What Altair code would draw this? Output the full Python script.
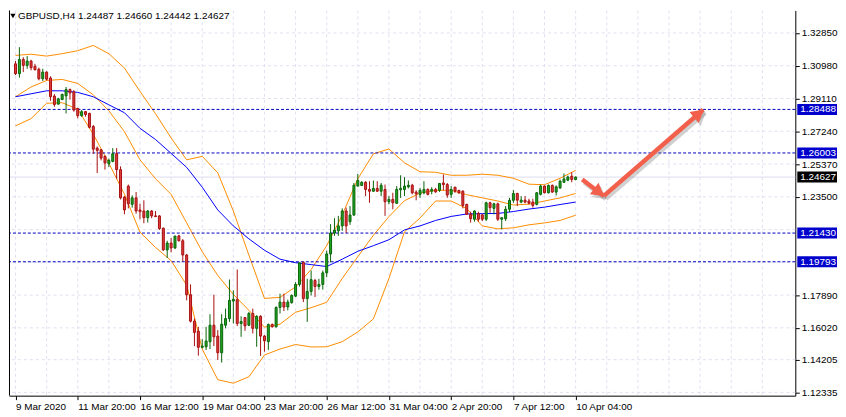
import altair as alt
import pandas as pd

# ---------------- data ----------------
OPEN = [1.3109, 1.3053, 1.3134, 1.3100, 1.3125, 1.3095, 1.3078, 1.3024, 1.3062, 1.3028,
        1.2925, 1.2879, 1.2905, 1.2926, 1.2962, 1.2949, 1.2854, 1.2813, 1.2836, 1.2826,
        1.2751, 1.2628, 1.2619, 1.2581, 1.2539, 1.2552, 1.2596, 1.2505, 1.2348, 1.2411,
        1.2307, 1.2344, 1.2275, 1.2269, 1.2231, 1.2269, 1.2241, 1.2241, 1.2171, 1.2047,
        1.2086, 1.2058, 1.2127, 1.2099, 1.2018, 1.1791, 1.1640, 1.1583, 1.1491, 1.1494,
        1.1523, 1.1617, 1.1555, 1.1460, 1.1617, 1.1655, 1.1755, 1.1763, 1.1627, 1.1661,
        1.1617, 1.1684, 1.1599, 1.1668, 1.1555, 1.1523, 1.1621, 1.1608, 1.1718, 1.1749,
        1.1721, 1.1746, 1.1783, 1.1850, 1.1976, 1.1769, 1.1810, 1.1872, 1.1838, 1.1850,
        1.1916, 1.2024, 1.2143, 1.2156, 1.2184, 1.2269, 1.2208, 1.2246, 1.2411, 1.2415,
        1.2433, 1.2392, 1.2382, 1.2398, 1.2382, 1.2392, 1.2322, 1.2335, 1.2313, 1.2390,
        1.2392, 1.2407, 1.2416, 1.2377, 1.2364, 1.2373, 1.2392, 1.2382, 1.2392, 1.2387,
        1.2429, 1.2420, 1.2364, 1.2405, 1.2387, 1.2382, 1.2307, 1.2250, 1.2222, 1.2254,
        1.2247, 1.2222, 1.2316, 1.2284, 1.2310, 1.2222, 1.2225, 1.2279, 1.2330, 1.2369,
        1.2320, 1.2331, 1.2326, 1.2320, 1.2307, 1.2364, 1.2411, 1.2373, 1.2415, 1.2377,
        1.2401, 1.2433, 1.2445, 1.2467, 1.24487]
HIGH = [1.3125, 1.3204, 1.3147, 1.3153, 1.3132, 1.3109, 1.3087, 1.3081, 1.3066, 1.3038,
        1.2936, 1.2915, 1.2939, 1.2977, 1.2968, 1.2959, 1.2858, 1.2845, 1.2840, 1.2830,
        1.2760, 1.2637, 1.2622, 1.2586, 1.2569, 1.2628, 1.2628, 1.2524, 1.2354, 1.2420,
        1.2358, 1.2377, 1.2310, 1.2330, 1.2275, 1.2275, 1.2269, 1.2245, 1.2174, 1.2099,
        1.2114, 1.2127, 1.2133, 1.2109, 1.2024, 1.1850, 1.1655, 1.1608, 1.1537, 1.1608,
        1.1680, 1.1791, 1.1589, 1.1680, 1.1712, 1.1878, 1.1816, 1.1935, 1.1668, 1.1664,
        1.1693, 1.1712, 1.1674, 1.1674, 1.1561, 1.1627, 1.1627, 1.1725, 1.1797, 1.1797,
        1.1763, 1.1793, 1.1863, 1.1976, 1.1980, 1.1882, 1.1929, 1.1882, 1.1882, 1.1929,
        1.2042, 1.2194, 1.2228, 1.2241, 1.2284, 1.2288, 1.2297, 1.2429, 1.2480, 1.2439,
        1.2439, 1.2439, 1.2443, 1.2439, 1.2429, 1.2420, 1.2354, 1.2373, 1.2411, 1.2473,
        1.2462, 1.2443, 1.2424, 1.2387, 1.2401, 1.2439, 1.2398, 1.2405, 1.2401, 1.2429,
        1.2477, 1.2429, 1.2411, 1.2405, 1.2387, 1.2387, 1.2310, 1.2265, 1.2273, 1.2265,
        1.2250, 1.2322, 1.2322, 1.2316, 1.2316, 1.2231, 1.2297, 1.2344, 1.2388, 1.2373,
        1.2354, 1.2354, 1.2339, 1.2339, 1.2377, 1.2420, 1.2415, 1.2420, 1.2420, 1.2415,
        1.2449, 1.2483, 1.2471, 1.2490, 1.24660]
LOW = [1.3045, 1.3030, 1.3062, 1.3081, 1.3072, 1.3072, 1.3015, 1.3011, 1.3015, 1.2898,
       1.2864, 1.2877, 1.2902, 1.2826, 1.2905, 1.2836, 1.2798, 1.2807, 1.2807, 1.2741,
       1.2596, 1.2486, 1.2558, 1.2505, 1.2520, 1.2547, 1.2452, 1.2335, 1.2250, 1.2284,
       1.2288, 1.2254, 1.2222, 1.2199, 1.2203, 1.2228, 1.2235, 1.2161, 1.2042, 1.2001,
       1.2033, 1.2052, 1.2095, 1.1982, 1.1759, 1.1633, 1.1498, 1.1443, 1.1485, 1.1476,
       1.1481, 1.1498, 1.1419, 1.1404, 1.1599, 1.1636, 1.1627, 1.1612, 1.1551, 1.1585,
       1.1612, 1.1570, 1.1494, 1.1442, 1.1466, 1.1476, 1.1604, 1.1604, 1.1684, 1.1698,
       1.1702, 1.1740, 1.1778, 1.1838, 1.1749, 1.1636, 1.1787, 1.1778, 1.1820, 1.1820,
       1.1891, 1.1976, 1.2127, 1.2127, 1.2156, 1.2143, 1.2190, 1.2241, 1.2411, 1.2411,
       1.2354, 1.2316, 1.2378, 1.2378, 1.2354, 1.2241, 1.2307, 1.2279, 1.2310, 1.2344,
       1.2354, 1.2398, 1.2364, 1.2330, 1.2344, 1.2364, 1.2358, 1.2364, 1.2373, 1.2378,
       1.2387, 1.2344, 1.2344, 1.2373, 1.2367, 1.2284, 1.2247, 1.2203, 1.2208, 1.2208,
       1.2212, 1.2212, 1.2259, 1.2250, 1.2212, 1.2165, 1.2212, 1.2263, 1.2316, 1.2297,
       1.2313, 1.2313, 1.2307, 1.2288, 1.2301, 1.2358, 1.2369, 1.2369, 1.2373, 1.2358,
       1.2395, 1.2429, 1.2439, 1.2433, 1.24442]
CLOSE = [1.3053, 1.3134, 1.3100, 1.3125, 1.3087, 1.3075, 1.3024, 1.3062, 1.3021, 1.2921,
         1.2877, 1.2909, 1.2934, 1.2962, 1.2943, 1.2845, 1.2813, 1.2836, 1.2820, 1.2747,
         1.2622, 1.2615, 1.2571, 1.2543, 1.2558, 1.2596, 1.2505, 1.2344, 1.2275, 1.2310,
         1.2344, 1.2269, 1.2265, 1.2231, 1.2269, 1.2241, 1.2237, 1.2169, 1.2047, 1.2086,
         1.2058, 1.2126, 1.2099, 1.2018, 1.1791, 1.1640, 1.1576, 1.1491, 1.1498, 1.1527,
         1.1617, 1.1551, 1.1460, 1.1623, 1.1655, 1.1759, 1.1765, 1.1627, 1.1638, 1.1613,
         1.1684, 1.1599, 1.1668, 1.1555, 1.1528, 1.1621, 1.1608, 1.1718, 1.1749, 1.1721,
         1.1749, 1.1787, 1.1850, 1.1973, 1.1769, 1.1810, 1.1877, 1.1838, 1.1850, 1.1916,
         1.2024, 1.2143, 1.2160, 1.2184, 1.2269, 1.2184, 1.2246, 1.2416, 1.2443, 1.2433,
         1.2392, 1.2382, 1.2398, 1.2382, 1.2416, 1.2322, 1.2335, 1.2316, 1.2392, 1.2398,
         1.2411, 1.2416, 1.2373, 1.2367, 1.2387, 1.2392, 1.2364, 1.2392, 1.2378, 1.2426,
         1.2420, 1.2360, 1.2392, 1.2382, 1.2373, 1.2301, 1.2250, 1.2225, 1.2269, 1.2222,
         1.2222, 1.2316, 1.2288, 1.2310, 1.2222, 1.2231, 1.2279, 1.2330, 1.2369, 1.2331,
         1.2331, 1.2320, 1.2313, 1.2301, 1.2373, 1.2411, 1.2373, 1.2415, 1.2377, 1.2407,
         1.2439, 1.2452, 1.2463, 1.2449, 1.24627]

# Bollinger bands and moving average, read every 4th bar
BAND_BARS = [0, 4, 8, 12, 16, 20, 24, 28, 32, 36, 40, 44, 48, 52, 56, 60, 64, 68, 72,
             76, 80, 84, 88, 92, 96, 100, 104, 108, 112, 116, 120, 124, 128, 132, 136, 140, 144]
UPPER = [1.3157, 1.3164, 1.3153, 1.3167, 1.3184, 1.3214, 1.3167, 1.3085, 1.2952, 1.2824,
         1.2686, 1.2561, 1.2581, 1.2487, 1.2269, 1.2017, 1.1770, 1.1776, 1.1836, 1.1935,
         1.2071, 1.2246, 1.2453, 1.2595, 1.2623, 1.2544, 1.2493, 1.2490, 1.2473, 1.2473,
         1.2479, 1.2473, 1.2456, 1.2422, 1.2419, 1.2456, 1.2501]
MIDDLE = [1.2921, 1.2977, 1.3014, 1.3020, 1.2997, 1.2932, 1.2841, 1.2722, 1.2561, 1.2453,
          1.2364, 1.2201, 1.2037, 1.1901, 1.1793, 1.1702, 1.1606, 1.1623, 1.1691, 1.1717,
          1.1748, 1.1884, 1.2008, 1.2130, 1.2237, 1.2328, 1.2371, 1.2387, 1.2387, 1.2362,
          1.2344, 1.2326, 1.2303, 1.2308, 1.2326, 1.2344, 1.2369]
LOWER = [1.2755, 1.2796, 1.2884, 1.2887, 1.2850, 1.2707, 1.2542, 1.2365, 1.2148, 1.2061,
         1.1986, 1.1846, 1.1481, 1.1306, 1.1286, 1.1323, 1.1447, 1.1481, 1.1507, 1.1493,
         1.1494, 1.1523, 1.1579, 1.1653, 1.1884, 1.2150, 1.2229, 1.2326, 1.2326, 1.2283,
         1.2184, 1.2167, 1.2173, 1.2190, 1.2201, 1.2215, 1.2245]
MA = [1.2921, 1.2938, 1.2955, 1.2955, 1.2946, 1.2921, 1.2875, 1.2830, 1.2741, 1.2677,
      1.2598, 1.2518, 1.2405, 1.2275, 1.2184, 1.2110, 1.2045, 1.1994, 1.1974, 1.1963,
      1.1952, 1.1994, 1.2039, 1.2071, 1.2105, 1.2161, 1.2184, 1.2215, 1.2238, 1.2252,
      1.2254, 1.2255, 1.2266, 1.2280, 1.2291, 1.2306, 1.2320]

LEVELS = [1.28488, 1.26003, 1.21430, 1.19793]
LAST_PRICE = 1.24627
Y_TICKS = [1.32850, 1.30980, 1.29110, 1.27240, 1.25370, 1.23500,
           1.17890, 1.16020, 1.14205, 1.12335]
Y_GRID = [1.32850, 1.30980, 1.29110, 1.27240, 1.25370, 1.23500, 1.21630, 1.19760,
          1.17890, 1.16020, 1.14205, 1.12335]
DATE_TICK_BARS = [0, 16, 32, 48, 64, 80, 96, 112, 128, 144]
DATE_LABELS = ["9 Mar 2020", "11 Mar 20:00", "16 Mar 12:00", "19 Mar 04:00", "23 Mar 20:00",
               "26 Mar 12:00", "31 Mar 04:00", "2 Apr 20:00", "7 Apr 12:00", "10 Apr 04:00"]
GRID_BARS = list(range(0, 193, 8))

ARROW1_BARS = [145.7, 151.25]
ARROW1_PRICES = [1.2449, 1.2355]
ARROW2_BARS = [151.25, 176.8]
ARROW2_PRICES = [1.2355, 1.2847]
HEAD1 = (150.05, 1.2376)
HEAD2 = (175.7, 1.2825)

TITLE = "GBPUSD,H4  1.24487 1.24660 1.24442 1.24627"

# ---------------- chart ----------------
FONT = "Liberation Sans"
W, H = 792, 388
UP_FILL, DOWN_FILL = "#22a822", "#de3e3e"
UP_LINE, DOWN_LINE = "#0a640a", "#a80f0f"
ORANGE = "#ff8c00"
ARROW = "#f2604c"
GRID_COLOR = "#e0e0f2"

xscale = alt.Scale(domain=[-0.4, 199.2], nice=False, zero=False)
yscale = alt.Scale(domain=[1.1215, 1.34137], nice=False, zero=False)

label_expr = "[" + ",".join("'%s'" % s for s in DATE_LABELS) + "][round(datum.value / 16)]"

xaxis = alt.Axis(values=DATE_TICK_BARS, labelExpr=label_expr, title=None, grid=False,
                 orient="bottom", tickSize=4, tickColor="black", domainColor="black",
                 labelAlign="left", labelBaseline="top", labelPadding=2, labelFontSize=10,
                 labelFont=FONT, labelColor="black", labelFlush=False, labelOverlap=False)
yaxis = alt.Axis(values=Y_TICKS, format=".5f", orient="right", title=None, grid=False,
                 tickSize=4, tickColor="black",
                 domainColor="black", labelAlign="left", labelBaseline="middle",
                 labelPadding=2, labelFontSize=10, labelFont=FONT, labelColor="black",
                 labelOverlap=False, labelFlush=False)


def X(f):
    return alt.X(f + ":Q", scale=xscale, axis=xaxis)


def Y(f):
    return alt.Y(f + ":Q", scale=yscale, axis=yaxis)


candles = pd.DataFrame({"bar": list(range(len(OPEN))), "o": OPEN, "h": HIGH, "l": LOW, "c": CLOSE})
candles["dir"] = ["up" if c >= o else "down" for o, c in zip(OPEN, CLOSE)]
bands = pd.DataFrame({"bar": BAND_BARS, "upper": UPPER, "middle": MIDDLE, "lower": LOWER, "ma": MA})
vgrid_df = pd.DataFrame({"bar": GRID_BARS})
hgrid_df = pd.DataFrame({"p": Y_GRID})
levels = pd.DataFrame({"p": LEVELS})
last = pd.DataFrame({"p": [LAST_PRICE]})
a1 = pd.DataFrame({"bar": ARROW1_BARS, "p": ARROW1_PRICES})
a2 = pd.DataFrame({"bar": ARROW2_BARS, "p": ARROW2_PRICES})
h1 = pd.DataFrame({"bar": [HEAD1[0]], "p": [HEAD1[1]]})
h2 = pd.DataFrame({"bar": [HEAD2[0]], "p": [HEAD2[1]]})
title_df = pd.DataFrame({"t": [TITLE]})

stroke_scale = alt.Scale(domain=["up", "down"], range=[UP_LINE, DOWN_LINE])
fill_scale = alt.Scale(domain=["up", "down"], range=[UP_FILL, DOWN_FILL])

vgrid = alt.Chart(vgrid_df).mark_rule(color=GRID_COLOR, strokeDash=[3, 3], strokeWidth=1).encode(x=X("bar"))
hgrid = alt.Chart(hgrid_df).mark_rule(color=GRID_COLOR, strokeDash=[3, 3], strokeWidth=1).encode(y=Y("p"))
last_line = alt.Chart(last).mark_rule(color="#dcdcf0", strokeWidth=1).encode(y=Y("p"))
level_lines = alt.Chart(levels).mark_rule(color="#0000c0", strokeDash=[3, 2], strokeWidth=1).encode(y=Y("p"))

band_layers = [
    alt.Chart(bands).mark_line(color=ORANGE, strokeWidth=1).encode(x=X("bar"), y=Y(f))
    for f in ["upper", "middle", "lower"]
]
ma_line = alt.Chart(bands).mark_line(color="#0000ff", strokeWidth=1).encode(x=X("bar"), y=Y("ma"))

wicks = alt.Chart(candles).mark_rule(strokeWidth=1).encode(
    x=X("bar"), y=Y("l"), y2=alt.Y2("h"),
    stroke=alt.Stroke("dir:N", scale=stroke_scale, legend=None))
bodies = alt.Chart(candles).mark_bar(size=2, strokeWidth=1).encode(
    x=X("bar"), y=Y("o"), y2=alt.Y2("c"),
    fill=alt.Fill("dir:N", scale=fill_scale, legend=None),
    stroke=alt.Stroke("dir:N", scale=stroke_scale, legend=None))

arrow_layers = []
for df in (a1, a2):
    arrow_layers.append(alt.Chart(df).mark_line(color="#7a7a7a", opacity=0.35, strokeWidth=4.5,
                                                xOffset=2, yOffset=3).encode(x=X("bar"), y=Y("p")))
for df, ang in ((h1, 127), (h2, 50)):
    arrow_layers.append(alt.Chart(df).mark_point(shape="triangle-up", filled=True, size=210,
                                                 color="#7a7a7a", opacity=0.35, angle=ang,
                                                 xOffset=2, yOffset=3).encode(x=X("bar"), y=Y("p")))
for df in (a1, a2):
    arrow_layers.append(alt.Chart(df).mark_line(color=ARROW, strokeWidth=4.5).encode(x=X("bar"), y=Y("p")))
for df, ang in ((h1, 127), (h2, 50)):
    arrow_layers.append(alt.Chart(df).mark_point(shape="triangle-up", filled=True, size=210,
                                                 color=ARROW, opacity=1, angle=ang).encode(x=X("bar"), y=Y("p")))

title_text = alt.Chart(title_df).mark_text(align="left", baseline="middle", fontSize=10, font=FONT,
                                           color="black").encode(text="t:N", x=alt.value(9), y=alt.value(5.5))
title_tri = alt.Chart(title_df).mark_point(shape="triangle-down", filled=True, size=28, color="black",
                                           opacity=1, strokeWidth=0).encode(x=alt.value(4), y=alt.value(5.5))

BOX = "M-1,-0.275L1,-0.275L1,0.275L-1,0.275Z"
level_boxes = alt.Chart(levels).mark_point(shape=BOX, filled=True, size=1600, color="#0000cd",
                                           opacity=1, strokeWidth=0).encode(x=alt.value(814), y=Y("p"))
level_text = alt.Chart(levels).mark_text(align="left", baseline="middle", fontSize=10, font=FONT,
                                         color="white").encode(x=alt.value(797), y=Y("p"),
                                                               text=alt.Text("p:Q", format=".5f"))
last_box = alt.Chart(last).mark_point(shape=BOX, filled=True, size=1600, color="black",
                                      opacity=1, strokeWidth=0).encode(x=alt.value(814), y=Y("p"))
last_text = alt.Chart(last).mark_text(align="left", baseline="middle", fontSize=10, font=FONT,
                                      color="white").encode(x=alt.value(797), y=Y("p"),
                                                            text=alt.Text("p:Q", format=".5f"))

left_border = alt.Chart(title_df).mark_rule(color="black", strokeWidth=1).encode(
    x=alt.value(0.5), y=alt.value(0), y2=alt.value(H))

chart = alt.layer(
    vgrid, hgrid, last_line, *band_layers, ma_line, level_lines, wicks, bodies, *arrow_layers,
    title_text, title_tri, level_boxes, level_text, last_box, last_text, left_border
).properties(width=W, height=H, padding=0, background="white").configure_view(stroke=None)

chart.save("out.html", embed_options={"renderer": "svg", "actions": False})
